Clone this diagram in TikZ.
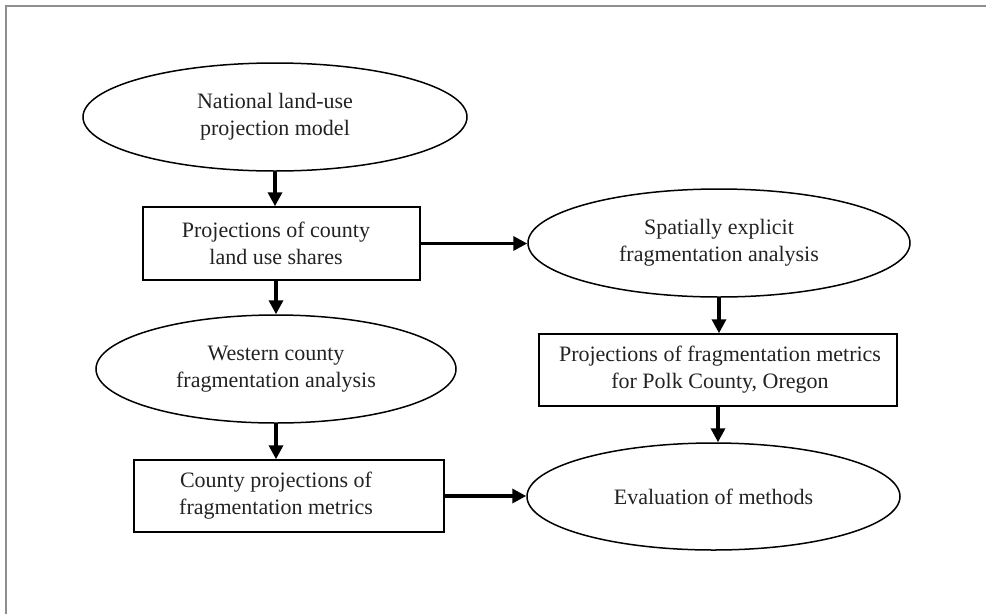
\documentclass[tikz,border=0pt]{standalone}
\usepackage{fontspec}
\setmainfont{Liberation Serif}
\usetikzlibrary{shapes.geometric,arrows.meta}
\definecolor{framegray}{HTML}{8E8E8E}
\definecolor{txt}{HTML}{222222}
\begin{document}
\begin{tikzpicture}[x=1pt,y=-1pt,
  lbl/.style={font=\fontsize{22}{27}\selectfont, text=txt, align=center, inner sep=0pt},
  oval/.style={lbl, ellipse, draw, line width=1.5pt},
  box/.style={rectangle, draw, line width=1.5pt, inner sep=0pt},
  arr/.style={line width=3.4pt, -{Triangle[length=14pt,width=14pt]}},
  frameline/.style={draw=framegray, line width=2pt}
]
\useasboundingbox (0,0) rectangle (986,614);
\draw[frameline] (6,614) -- (6,6) -- (986,6);

\node[oval, minimum width=384pt, minimum height=108pt] (e1) at (275,117) {National land-use\\projection model};
\node[box, minimum width=277pt, minimum height=73pt,
      label={[lbl, xshift=-5.5pt]center:{Projections of county\\land use shares}}] (r1) at (281.5,243.5) {};
\node[oval, minimum width=382pt, minimum height=108pt] (e2) at (719,243) {Spatially explicit\\fragmentation analysis};
\node[oval, minimum width=360pt, minimum height=108pt] (ew) at (276,369) {Western county\\fragmentation analysis};
\node[box, minimum width=358pt, minimum height=72pt,
      label={[lbl, xshift=2pt]center:{Projections of fragmentation metrics\\for Polk County, Oregon}}] (r2) at (718,370) {};
\node[box, minimum width=310pt, minimum height=72pt,
      label={[lbl, xshift=-13pt]center:{County projections of\\fragmentation metrics}}] (r3) at (289,496) {};
\node[oval, minimum width=373pt, minimum height=107pt] (e3) at (713.5,496.5) {Evaluation of methods};

\draw[arr] (e1.south) -- (e1.south |- r1.north);
\draw[arr] (r1.south -| ew.north) -- (ew.north);
\draw[arr] (ew.south) -- (ew.south |- r3.north);
\draw[arr] (r1.east) -- (r1.east -| e2.west);
\draw[arr] (e2.south) -- (e2.south |- r2.north);
\draw[arr] (r2.south) -- (r2.south |- e3.north);
\draw[arr] (r3.east) -- (r3.east -| e3.west);
\end{tikzpicture}
\end{document}
